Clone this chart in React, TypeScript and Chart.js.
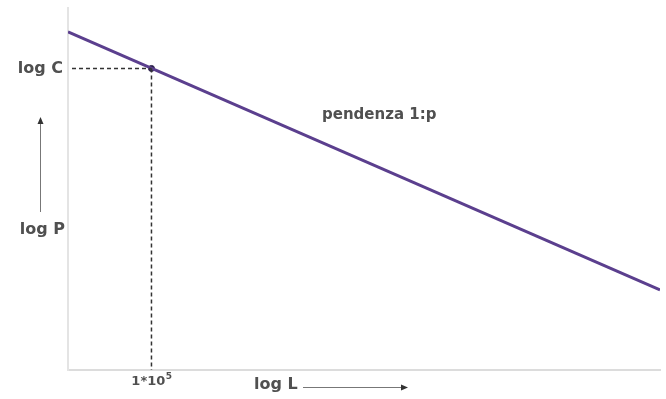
import React, { useEffect, useRef } from "react";
import { Chart, registerables } from "chart.js";

Chart.register(...registerables);

// Data (axis units: arbitrary log scale 0..100)
const lineX = [0, 100];
const lineY = [93.4, 22.1];
const pointX = [14.1];
const pointY = [83.3];
const labelLogC = "log C";
const labelLogP = "log P";
const labelLogL = "log L";
const labelTickBase = "1*10";
const labelTickExp = "5";
const labelSlope = "pendenza 1:p";

const TEXT_COLOR = "#505050";
const LINE_COLOR = "#5b3f8e";
const FONT = "'DejaVu Sans', 'Liberation Sans', sans-serif";

const annotations = {
  id: "annotations",
  afterDatasetsDraw(chart: any) {
    const { ctx, scales, chartArea } = chart;
    const xs = scales.x;
    const ys = scales.y;
    const px = xs.getPixelForValue(pointX[0]);
    const py = ys.getPixelForValue(pointY[0]);
    ctx.save();
    // dashed guides
    ctx.strokeStyle = "#333";
    ctx.lineWidth = 1.5;
    ctx.setLineDash([4, 3]);
    ctx.beginPath();
    ctx.moveTo(chartArea.left + 4, py);
    ctx.lineTo(px, py);
    ctx.moveTo(px, py);
    ctx.lineTo(px, chartArea.bottom);
    ctx.stroke();
    ctx.setLineDash([]);

    ctx.fillStyle = TEXT_COLOR;
    ctx.font = `bold 16px ${FONT}`;
    ctx.textBaseline = "middle";
    ctx.textAlign = "right";
    ctx.fillText(labelLogC, chartArea.left - 5, py);
    ctx.fillText(labelLogP, chartArea.left - 3, 230);

    // tick label with superscript
    ctx.font = `bold 13px ${FONT}`;
    const baseW = ctx.measureText(labelTickBase).width;
    ctx.font = `bold 9px ${FONT}`;
    const expW = ctx.measureText(labelTickExp).width;
    const startX = px - (baseW + expW) / 2;
    ctx.textAlign = "left";
    ctx.font = `bold 13px ${FONT}`;
    ctx.fillText(labelTickBase, startX, 382);
    ctx.font = `bold 9px ${FONT}`;
    ctx.fillText(labelTickExp, startX + baseW + 0.5, 377);

    ctx.font = `bold 16px ${FONT}`;
    ctx.textAlign = "left";
    ctx.fillText(labelLogL, 254, 385);
    ctx.font = `bold 15px ${FONT}`;
    ctx.fillText(labelSlope, 322, 115);

    // arrows
    ctx.strokeStyle = "#777";
    ctx.fillStyle = "#333";
    ctx.lineWidth = 1;
    ctx.beginPath();
    ctx.moveTo(40.5, 212);
    ctx.lineTo(40.5, 122);
    ctx.stroke();
    ctx.beginPath();
    ctx.moveTo(40.5, 117);
    ctx.lineTo(37.5, 124);
    ctx.lineTo(43.5, 124);
    ctx.closePath();
    ctx.fill();

    ctx.beginPath();
    ctx.moveTo(303, 387.5);
    ctx.lineTo(402, 387.5);
    ctx.stroke();
    ctx.beginPath();
    ctx.moveTo(408, 387.5);
    ctx.lineTo(401, 384.5);
    ctx.lineTo(401, 390.5);
    ctx.closePath();
    ctx.fill();
    ctx.restore();
  },
};

export default function App() {
  const ref = useRef<HTMLCanvasElement | null>(null);
  useEffect(() => {
    if (!ref.current) return;
    const chart = new Chart(ref.current, {
      type: "scatter",
      data: {
        datasets: [
          {
            type: "line",
            data: lineX.map((x, i) => ({ x, y: lineY[i] })),
            borderColor: LINE_COLOR,
            borderWidth: 3,
            pointRadius: 0,
            fill: false,
          } as any,
          {
            data: pointX.map((x, i) => ({ x, y: pointY[i] })),
            backgroundColor: "#2a1f4a",
            borderColor: "#2a1f4a",
            pointRadius: 3,
          },
        ],
      },
      options: {
        responsive: false,
        animation: false,
        layout: { padding: { left: 68, right: 6, top: 8, bottom: 29 } },
        plugins: { legend: { display: false }, tooltip: { enabled: false } },
        scales: {
          x: {
            type: "linear",
            min: 0,
            max: 100,
            ticks: { display: false },
            grid: { display: false, drawTicks: false },
            border: { display: true, color: "#dcdcdc", width: 2 },
          },
          y: {
            type: "linear",
            min: 0,
            max: 100,
            ticks: { display: false },
            grid: { display: false, drawTicks: false },
            border: { display: true, color: "#e4e4e4", width: 2 },
          },
        },
      },
      plugins: [annotations],
    });
    return () => chart.destroy();
  }, []);
  return (
    <div style={{ position: "fixed", left: 0, top: 0, width: 666, height: 399, background: "#fff" }}>
      <canvas ref={ref} width={666} height={399} style={{ width: 666, height: 399 }} />
    </div>
  );
}
